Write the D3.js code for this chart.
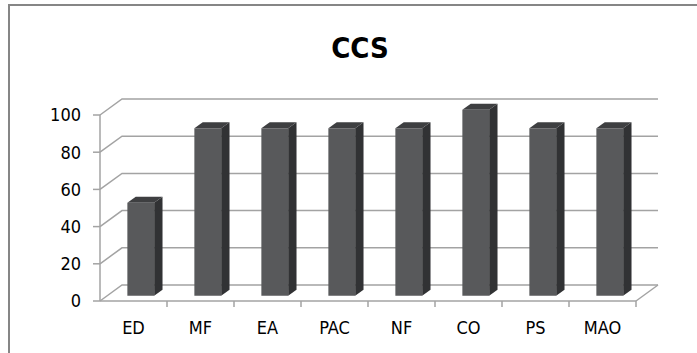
<!DOCTYPE html>
<html>
<head>
<meta charset="utf-8">
<script src="https://cdn.jsdelivr.net/npm/d3@7"></script>
<style>
  html, body { margin: 0; padding: 0; background: #ffffff; }
  svg { display: block; }
  text { font-family: "Liberation Sans Narrow", "DejaVu Sans Condensed", "Liberation Sans", Arial, sans-serif; fill: #000; }
</style>
</head>
<body>
<svg id="chart" width="697" height="353"></svg>
<script>
const title = "CCS";
const categories = ["ED", "MF", "EA", "PAC", "NF", "CO", "PS", "MAO"];
const values = [50, 90, 90, 90, 90, 100, 90, 90];
const yTicks = [0, 20, 40, 60, 80, 100];

const svg = d3.select("#chart");
const W = 697, H = 353;

// 3D depth offset of the back wall
const DX = 22, DY = 16;

const x = d3.scaleBand().domain(categories).range([100, 636]).padding(0);
const y = d3.scaleLinear().domain([0, 100]).range([301, 115]);

function P(px, v, d) { return [px + d * DX, y(v) - d * DY]; }

// outer border
svg.append("rect")
  .attr("x", 9).attr("y", 5)
  .attr("width", W + 20).attr("height", H + 20)
  .attr("fill", "#ffffff")
  .attr("stroke", "#868686").attr("stroke-width", 2);

// title
svg.append("text")
  .attr("x", 360).attr("y", 58)
  .attr("text-anchor", "middle")
  .attr("font-size", 29).attr("font-weight", "bold")
  .text(title);

const gridColor = "#a3a3a3";
const x0 = x.range()[0], x1 = x.range()[1];

// gridlines: side-wall diagonal + back wall horizontal
const grid = svg.append("g").attr("fill", "none").attr("stroke", gridColor).attr("stroke-width", 1.5);
yTicks.forEach(t => {
  const a = P(x0, t, 0), b = P(x0, t, 1), c = P(x1, t, 1);
  grid.append("path").attr("d", d3.line()([a, b, c]));
});
// floor right edge
{
  const a = P(x1, 0, 0), b = P(x1, 0, 1);
  grid.append("path").attr("d", d3.line()([a, b]));
}

// value axis line and ticks
const axis = svg.append("g").attr("stroke", gridColor).attr("stroke-width", 1.5).attr("fill", "none");
axis.append("line").attr("x1", x0).attr("x2", x0).attr("y1", y(100)).attr("y2", y(0));
yTicks.forEach(t => {
  axis.append("line").attr("x1", x0 - 7).attr("x2", x0).attr("y1", y(t)).attr("y2", y(t));
});
// category axis line and boundary ticks
axis.append("line").attr("x1", x0).attr("x2", x1).attr("y1", y(0)).attr("y2", y(0));
categories.forEach(c => {
  const bx = x(c) + x.bandwidth();
  axis.append("line").attr("x1", bx).attr("x2", bx).attr("y1", y(0)).attr("y2", y(0) + 6);
});

// y labels
svg.append("g").selectAll("text").data(yTicks).join("text")
  .attr("x", 81).attr("y", d => y(d))
  .attr("dy", "0.36em")
  .attr("text-anchor", "end")
  .attr("font-size", 18)
  .text(d => d);

// x labels
svg.append("g").selectAll("text").data(categories).join("text")
  .attr("x", d => x(d) + x.bandwidth() / 2)
  .attr("y", 334)
  .attr("text-anchor", "middle")
  .attr("font-size", 18)
  .text(d => d);

// 3D bars
const dF = 0.33, dB = 0.71;
const bw = x.bandwidth() * 0.4;
const bars = svg.append("g");
categories.forEach((c, i) => {
  const v = values[i];
  const L = x(c) + (x.bandwidth() - bw) / 2, R = L + bw;
  const g = bars.append("g");
  // side face
  g.append("path")
    .attr("d", d3.line()([P(R, 0, dF), P(R, 0, dB), P(R, v, dB), P(R, v, dF)]) + "Z")
    .attr("fill", "#313234");
  // top face
  g.append("path")
    .attr("d", d3.line()([P(L, v, dF), P(L, v, dB), P(R, v, dB), P(R, v, dF)]) + "Z")
    .attr("fill", "#3e3f41");
  // front face
  g.append("path")
    .attr("d", d3.line()([P(L, 0, dF), P(L, v, dF), P(R, v, dF), P(R, 0, dF)]) + "Z")
    .attr("fill", "#58595b");
});
</script>
</body>
</html>
